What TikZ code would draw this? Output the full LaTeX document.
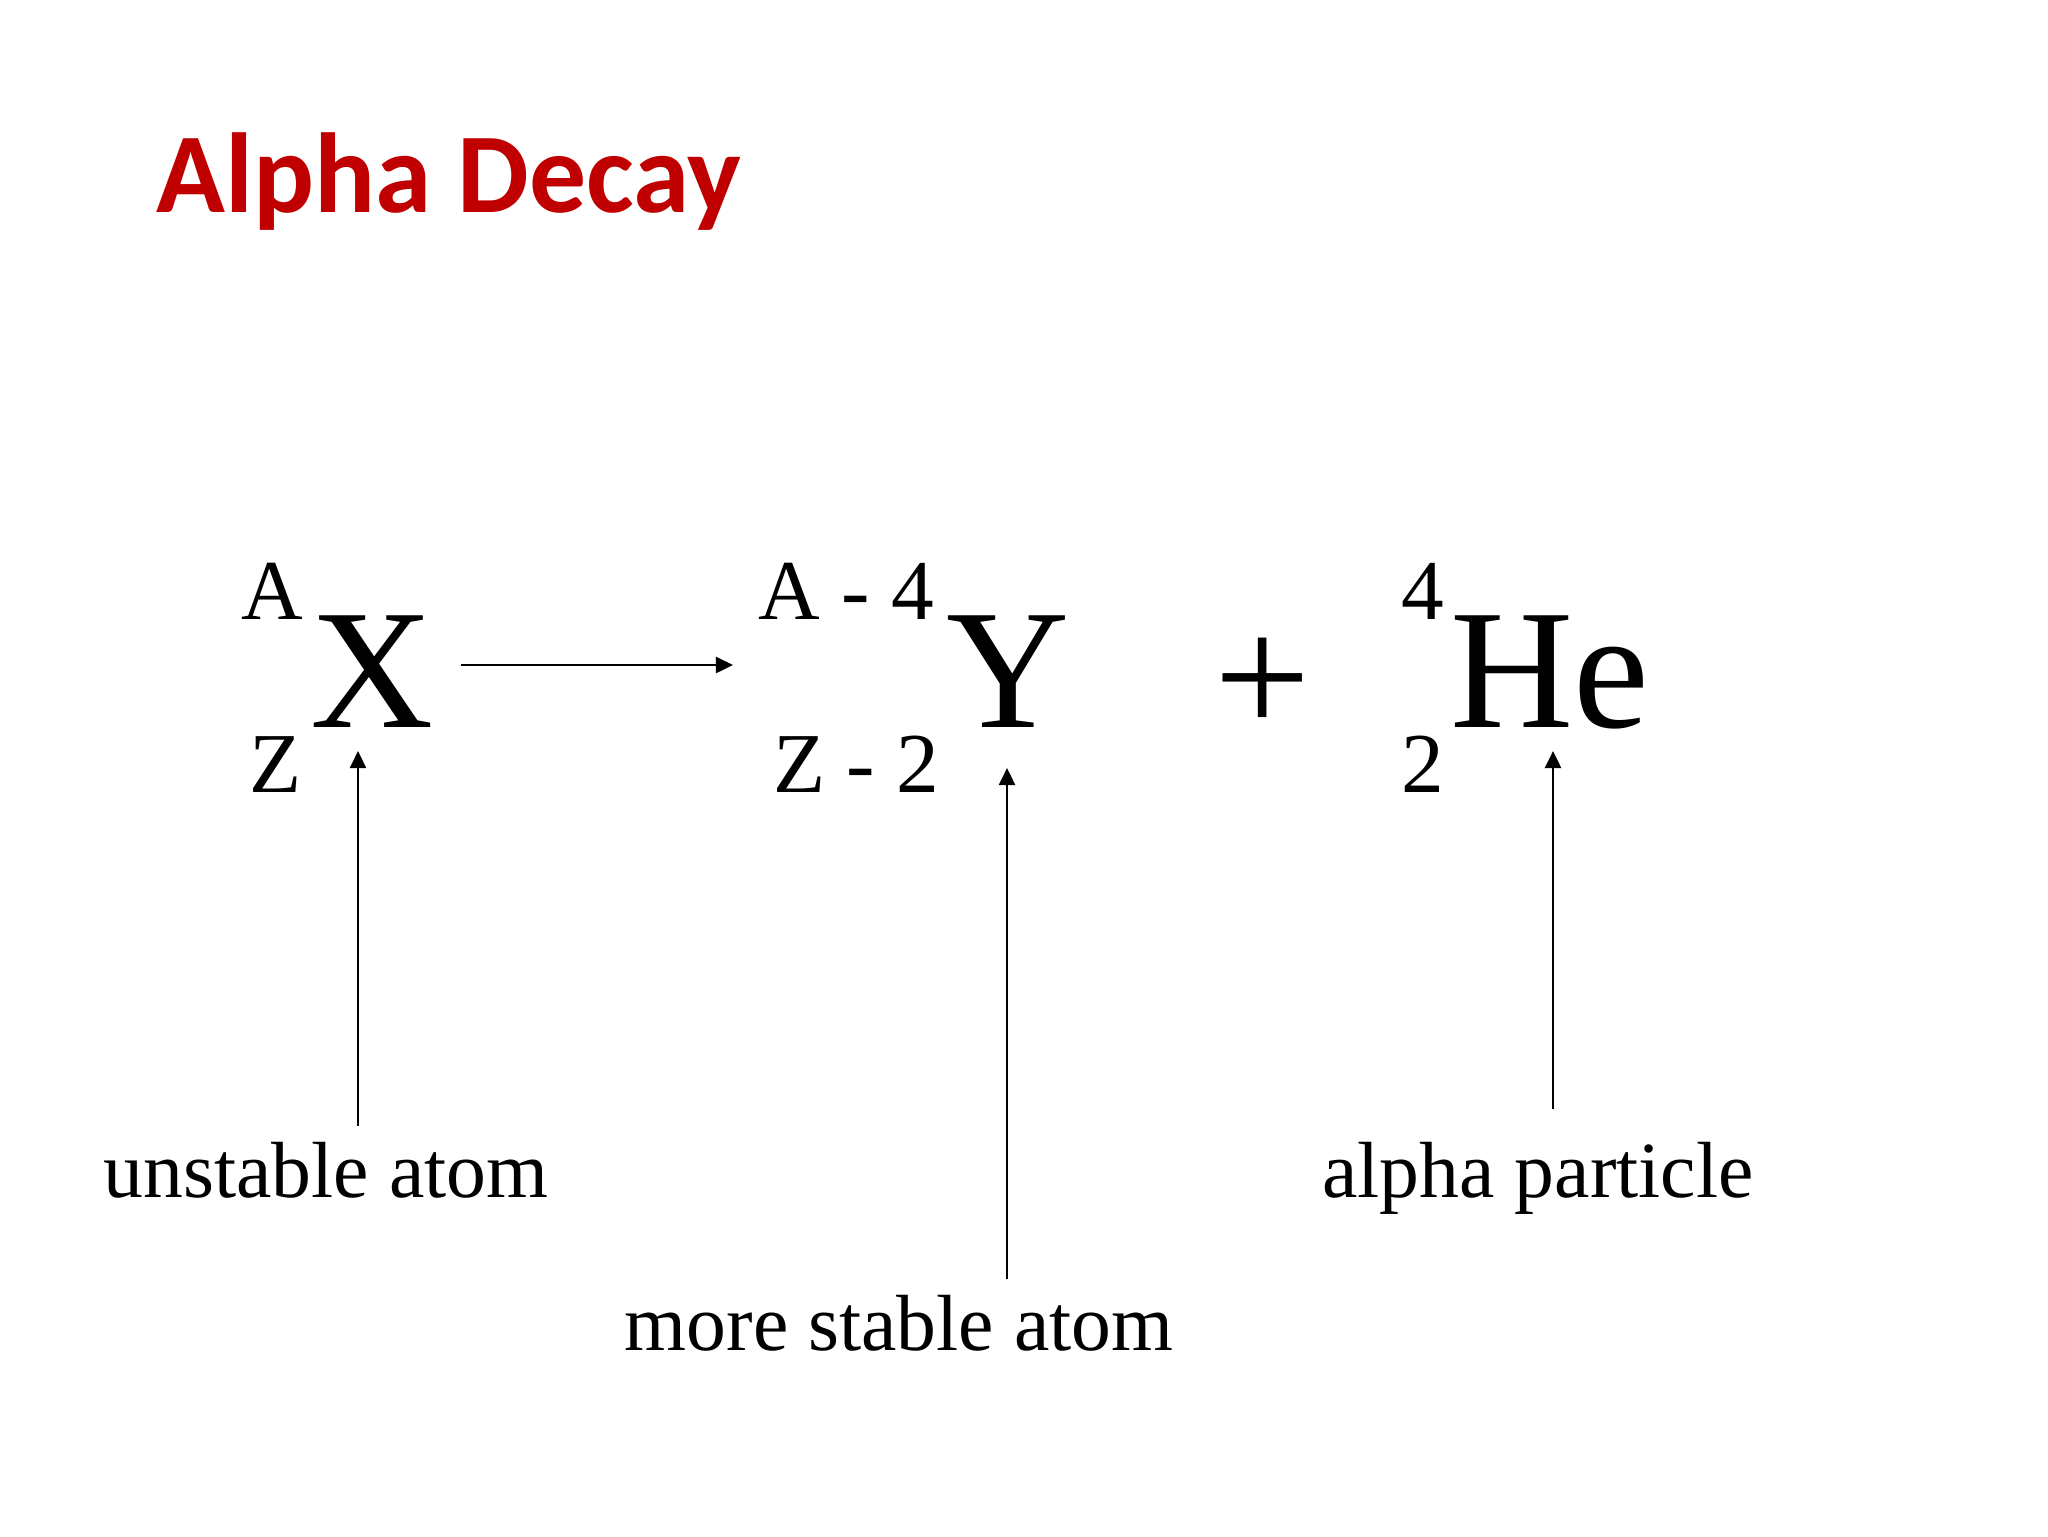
\documentclass[tikz,border=0pt]{standalone}
\usepackage{fontspec}
\setmainfont{Liberation Serif}
\newfontfamily\titlefont{Carlito}
\usetikzlibrary{arrows.meta}
\definecolor{titlered}{RGB}{192,0,0}
\tikzset{
  nuclide/.style={font=\fontsize{60}{72}\selectfont, inner sep=0pt, anchor=base},
  index/.style={font=\fontsize{30}{36}\selectfont, inner sep=0pt, anchor=base},
  note/.style={font=\fontsize{28}{34}\selectfont, inner sep=0pt, anchor=base},
  pointer/.style={line width=1pt, -{Triangle[length=6pt,width=5.6pt]}}
}
\begin{document}
\begin{tikzpicture}[x=0.3516pt, y=-0.3516pt]
\useasboundingbox (0,0) rectangle (2048,1536);
%--- Title ---
\node[inner sep=0pt, anchor=base west, text=titlered,
      font=\titlefont\bfseries\fontsize{40}{48}\selectfont] (title) at (156,212) {Alpha Decay};
%--- Parent nucleus: X ---
\node[nuclide] (X) at (372,727) {X};
\node[index] (XA) at (272,619) {A};
\node[index] (XZ) at (276,792) {Z};
%--- Reaction arrow ---
\coordinate (rstart) at (461,665);
\coordinate (rend) at (733,665);
\draw[pointer] (rstart) -- (rend);
%--- Daughter nucleus: Y ---
\node[nuclide] (Y) at (1008,727) {Y};
\node[index] (YA) at (846,619) {A - 4};
\node[index] (YZ) at (856,792) {Z - 2};
%--- Plus sign ---
\node[nuclide] (plus) at (1263,734) {+};
%--- Alpha particle: He ---
\node[nuclide] (He) at (1550,727) {He};
\node[index] (HeA) at (1423,619) {4};
\node[index] (HeZ) at (1423,792) {2};
%--- Labels ---
\node[note] (unstable) at (326,1197) {unstable atom};
\node[note] (stable) at (899,1350) {more stable atom};
\node[note] (alpha) at (1538,1197) {alpha particle};
%--- Pointers from labels up to the symbols ---
\coordinate (xbot) at (358,1126);
\coordinate (xtop) at (358,751);
\coordinate (ybot) at (1007,1279);
\coordinate (ytop) at (1007,768);
\coordinate (hebot) at (1553,1109);
\coordinate (hetop) at (1553,751);
\draw[pointer] (xbot) -- (xtop);
\draw[pointer] (ybot) -- (ytop);
\draw[pointer] (hebot) -- (hetop);
\end{tikzpicture}
\end{document}
